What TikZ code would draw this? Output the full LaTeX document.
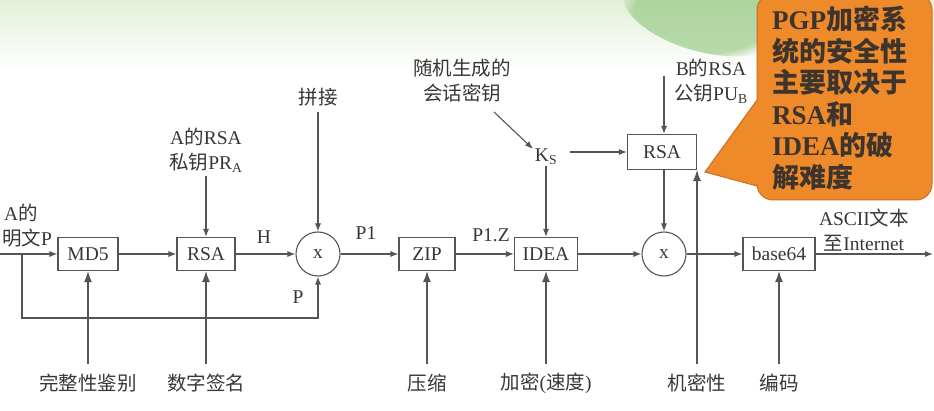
\documentclass[tikz,border=0pt]{standalone}
\usepackage{fontspec}
\setmainfont{Liberation Serif}
\newfontfamily\cjk{Noto Sans CJK SC}
\usetikzlibrary{arrows.meta,fadings}
\definecolor{linec}{RGB}{85,85,85}
\definecolor{txtc}{RGB}{55,55,55}
\definecolor{callfill}{RGB}{238,138,42}
\definecolor{calldraw}{RGB}{205,110,30}
\definecolor{calltxt}{RGB}{60,52,45}
\definecolor{bgtop}{RGB}{226,240,216}
\definecolor{leaf}{RGB}{140,195,120}
\tikzset{
  box/.style={draw=linec, line width=1.1pt, minimum height=33, inner sep=2pt, fill=white, text=txtc},
  circ/.style={draw=linec, line width=1.1pt, circle, minimum size=44, inner sep=0pt, fill=white, text=txtc},
  lbl/.style={text=txtc, inner sep=1pt, align=center},
  conn/.style={draw=linec, line width=1.1pt},
  arr/.style={conn, -{Latex[length=8pt,width=6pt]}},
  big/.style={conn, -{Latex[length=11pt,width=8pt]}},
}
\begin{document}
\begin{tikzpicture}[x=1pt,y=-1pt, font=\fontsize{19.5}{25}\selectfont]
\useasboundingbox (0,0) rectangle (934,411);
\fill[white] (0,0) rectangle (934,411);
\shade[top color=bgtop, bottom color=white] (0,0) rectangle (934,70);
\fill[leaf, opacity=0.6, path fading=circle with fuzzy edge 20 percent, rotate around={-15:(705,12)}] (705,12) ellipse (85 and 40);

% callout
\draw[fill=callfill, draw=calldraw, line width=1pt]
  (757,100) [rounded corners=16]-- (757,-6) -- (932,-6) -- (932,200) -- (757,200) [sharp corners]-- (757,186) -- (705,172) -- cycle;
\node[anchor=north west, inner sep=0pt, align=left, text=calltxt,
      font=\fontsize{27}{31.5}\selectfont\bfseries] (callout) at (772,6)
  {PGP{\cjk\bfseries 加密系}\\{\cjk\bfseries 统的安全性}\\{\cjk\bfseries 主要取决于}\\RSA{\cjk\bfseries 和}\\IDEA{\cjk\bfseries 的破}\\{\cjk\bfseries 解难度}};

% main boxes
\node[box, minimum width=60] (md5) at (88,254) {MD5};
\node[box, minimum width=58] (rsa1) at (206,254) {RSA};
\node[circ] (x1) at (318,254) {x};
\node[box, minimum width=56] (zip) at (427,254) {ZIP};
\node[box, minimum width=63] (idea) at (546,254) {IDEA};
\node[circ] (x2) at (664,254) {x};
\node[box, minimum width=72] (b64) at (779,254) {base64};
\node[box, minimum width=69, minimum height=35] (rsa2) at (662,152) {RSA};
\node[lbl] (ks) at (546,157) {K\textsubscript{S}};

% labels
\node[lbl] (pa1) at (21,213) {A{\cjk 的}};
\node[lbl, anchor=west] (pa2) at (1,238) {{\cjk 明文}P};
\node[lbl] (prA) at (206,150) {A{\cjk 的}RSA\\{\cjk 私钥}PR\textsubscript{A}};
\node[lbl] (pj) at (318,97) {{\cjk 拼接}};
\node[lbl] (sess) at (462,81) {{\cjk 随机生成的}\\{\cjk 会话密钥}};
\node[lbl] (puB) at (711,81) {B{\cjk 的}RSA\\{\cjk 公钥}PU\textsubscript{B}};
\node[lbl] (lH) at (264,237) {H};
\node[lbl] (lP) at (298,297) {P};
\node[lbl] (lP1) at (366,233) {P1};
\node[lbl] (lP1Z) at (491,235) {P1.Z};
\node[lbl] (ascii) at (864,230) {ASCII{\cjk 文本}\\{\cjk 至}Internet};
\node[lbl] (b1) at (88,383) {{\cjk 完整性鉴别}};
\node[lbl] (b2) at (206,383) {{\cjk 数字签名}};
\node[lbl] (b3) at (427,383) {{\cjk 压缩}};
\node[lbl] (b4) at (546,383) {{\cjk 加密}({\cjk 速度})};
\node[lbl] (b5) at (697,383) {{\cjk 机密性}};
\node[lbl] (b6) at (779,383) {{\cjk 编码}};

% free-end coordinates
\coordinate (pin) at (0,254);
\coordinate (split) at (22,254);
\coordinate (fb) at (318,318);
\coordinate (pjTop) at (318,112);
\coordinate (prTop) at (206,176);
\coordinate (sessEnd) at (494,112);
\coordinate (ksTip) at (533,149);
\coordinate (puTop) at (664,76);
\coordinate (out) at (933,254);
\coordinate (mB) at (88,364);
\coordinate (rB) at (206,364);
\coordinate (zB) at (427,364);
\coordinate (iB) at (546,364);
\coordinate (cB) at (697,364);
\coordinate (bB) at (779,364);

% connectors
\draw[arr] (pin) -- (md5.west);
\draw[arr] (md5.east) -- (rsa1.west);
\draw[arr] (rsa1.east) -- (x1.west);
\draw[arr] (split) |- (fb) -- (x1.south);
\draw[arr] (prTop) -- (rsa1.north);
\draw[arr] (pjTop) -- (x1.north);
\draw[arr] (x1.east) -- (zip.west);
\draw[arr] (zip.east) -- (idea.west);
\draw[arr] (sessEnd) -- (ksTip);
\draw[arr] (ks.south) -- (idea.north);
\draw[arr] ([xshift=12pt]ks.east |- rsa2.west) -- (rsa2.west);
\draw[arr] (puTop) -- (puTop |- rsa2.north);
\draw[arr] (rsa2.south -| x2.north) -- (x2.north);
\draw[arr] (idea.east) -- (x2.west);
\draw[arr] (x2.east) -- (b64.west);
\draw[arr] (b64.east) -- (out);
\draw[big] (mB) -- (md5.south);
\draw[big] (rB) -- (rsa1.south);
\draw[big] (zB) -- (zip.south);
\draw[big] (iB) -- (idea.south);
\draw[big] (cB) -- (cB |- rsa2.south);
\draw[big] (bB) -- (b64.south);
\end{tikzpicture}
\end{document}
